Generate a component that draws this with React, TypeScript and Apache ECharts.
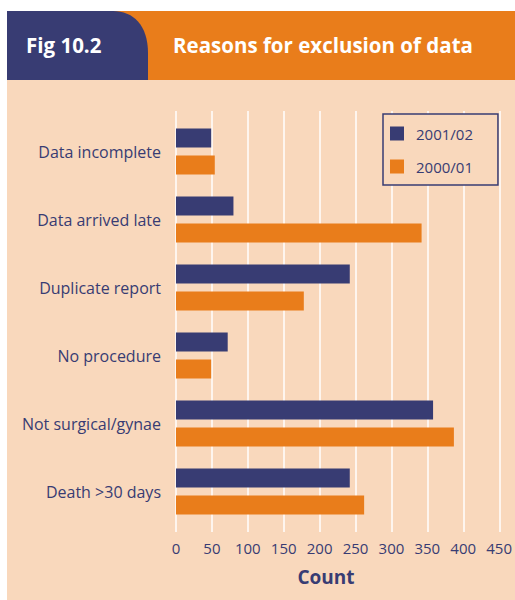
import React, { useEffect, useRef } from "react";
import * as echarts from "echarts";

const categories = [
  "Data incomplete",
  "Data arrived late",
  "Duplicate report",
  "No procedure",
  "Not surgical/gynae",
  "Death >30 days",
];
const series2001 = [49, 80, 242, 72, 358, 242];
const series2000 = [54, 342, 178, 49, 387, 262];
const seriesNames = ["2001/02", "2000/01"];
const axisTicks = { min: 0, max: 450, interval: 50 };

const NAVY = "#383c73";
const ORANGE = "#e97d1b";
const PEACH = "#f9d8bc";
const FONT = "'Open Sans', 'Noto Sans', sans-serif";

echarts.graphic.registerShape(
  "hdrTab",
  echarts.graphic.extendPath("M0 0 H106 C126 0 141 14 141 42 V69 H0 Z", {})
);

export default function App() {
  const ref = useRef<HTMLDivElement>(null);
  useEffect(() => {
    if (!ref.current) return;
    const chart = echarts.init(ref.current, null, { renderer: "svg" });
    chart.setOption({
      animation: false,
      backgroundColor: "#ffffff",
      textStyle: { fontFamily: FONT },
      graphic: [
        { type: "rect", z: -10, shape: { x: 7, y: 80, width: 508, height: 520 }, style: { fill: PEACH } },
        { type: "rect", z: -10, shape: { x: 7, y: 11, width: 508, height: 69 }, style: { fill: ORANGE } },
        { type: "hdrTab", z: -9, x: 7, y: 11, scaleX: 1, scaleY: 1, style: { fill: NAVY } },
        {
          type: "text", z: 10, x: 26, y: 45,
          style: { text: "Fig 10.2", fill: "#ffffff", font: `bold 20.5px ${FONT}`, verticalAlign: "middle" },
        },
        {
          type: "text", z: 10, x: 173, y: 45,
          style: { text: "Reasons for exclusion of data", fill: "#ffffff", font: `bold 20.5px ${FONT}`, verticalAlign: "middle" },
        },
        {
          type: "text", z: 10, x: 326, y: 577,
          style: { text: "Count", fill: NAVY, font: `bold 19px ${FONT}`, align: "center", verticalAlign: "middle" },
        },
      ],
      legend: {
        data: seriesNames,
        orient: "vertical",
        left: 383,
        top: 114,
        padding: [12, 25, 11, 7],
        itemGap: 18,
        itemWidth: 14,
        itemHeight: 14,
        icon: "rect",
        borderColor: NAVY,
        borderWidth: 1.5,
        borderRadius: 0,
        backgroundColor: PEACH,
        textStyle: { fontSize: 15, color: NAVY, fontFamily: FONT, padding: [0, 0, 0, 7] },
        z: 20,
      },
      grid: [
        { left: 176, right: 15, top: 117.5, height: 408 },
        { left: 176, right: 15, top: 111, bottom: 68 },
      ],
      xAxis: [
        {
          type: "value",
          gridIndex: 0,
          ...axisTicks,
          axisLine: { show: false },
          axisTick: { show: false },
          splitLine: { show: false },
          axisLabel: { color: NAVY, fontSize: 15, margin: 15, fontFamily: FONT },
        },
        {
          type: "value",
          gridIndex: 1,
          ...axisTicks,
          axisLine: { show: false },
          axisTick: { show: false },
          axisLabel: { show: false },
          splitLine: { show: true, lineStyle: { color: "#ffffff", width: 1.5 } },
        },
      ],
      yAxis: [
        {
          type: "category",
          gridIndex: 0,
          data: categories,
          inverse: true,
          axisLine: { show: false },
          axisTick: { show: false },
          axisLabel: { color: NAVY, fontSize: 16, margin: 15, fontFamily: FONT, padding: [0, 0, 3, 0] },
        },
        { type: "value", gridIndex: 1, show: false, min: 0, max: 1 },
      ],
      series: [
        {
          name: seriesNames[0],
          type: "bar",
          xAxisIndex: 0,
          yAxisIndex: 0,
          data: series2001,
          barWidth: 19,
          barGap: "42%",
          itemStyle: { color: NAVY },
        },
        {
          name: seriesNames[1],
          type: "bar",
          xAxisIndex: 0,
          yAxisIndex: 0,
          data: series2000,
          barWidth: 19,
          barGap: "42%",
          itemStyle: { color: ORANGE },
        },
      ],
    });
    return () => chart.dispose();
  }, []);
  return (
    <div
      ref={ref}
      style={{ position: "absolute", left: 0, top: 0, width: 515, height: 600 }}
    />
  );
}
